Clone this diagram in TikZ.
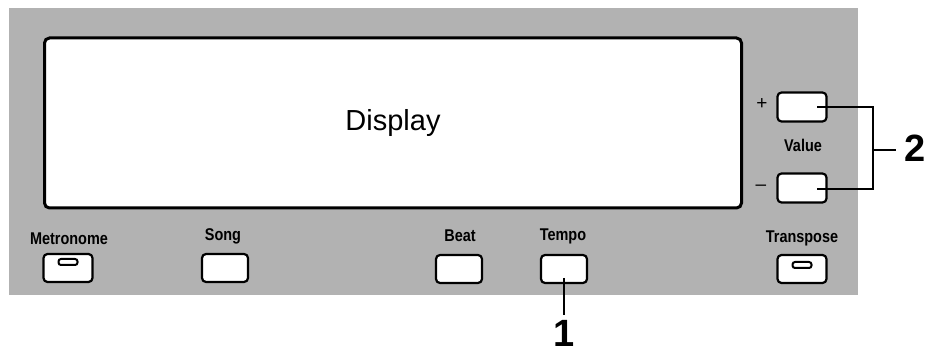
\documentclass[tikz,border=0pt]{standalone}
\usepackage{fontspec}
\setmainfont{Liberation Sans}
\newfontfamily\panelfont[FakeStretch=0.85]{Liberation Sans}
\definecolor{panel-gray}{HTML}{B2B2B2}

\begin{document}
\begin{tikzpicture}[x=1pt, y=-1pt,
    key/.style={draw, line width=2.2pt, fill=white, rounded corners=4pt,
      minimum width=46pt, minimum height=28pt, inner sep=0pt},
    widekey/.style={key, minimum width=49pt},
    keylabel/.style={font=\panelfont\bfseries\fontsize{17}{17}\selectfont,
      inner sep=0pt},
    led/.style={draw, line width=2pt, fill=white, rounded corners=2.5pt,
      minimum width=19pt, minimum height=6pt, inner sep=0pt},
    sign/.style={font=\fontsize{19}{19}\selectfont, inner sep=0pt},
    callout/.style={font=\bfseries\fontsize{38}{38}\selectfont, inner sep=0pt},
    lead/.style={line width=2pt}]
  \useasboundingbox (0,0) rectangle (930,358);
  % front panel
  \fill[panel-gray] (9,8) rectangle (858,295);
  \node[draw, line width=3pt, fill=white, rounded corners=5pt,
        minimum width=697pt, minimum height=170pt]
        (Display) at (393,123) {\fontsize{29}{29}\selectfont Display};

  % buttons along the bottom
  \node[widekey] (MetKey) at (68,268) {};
  \node[key] (SongKey) at (225,268) {};
  \node[key] (BeatKey) at (459,269) {};
  \node[key] (TempoKey) at (564,269) {};
  \node[widekey] (TransKey) at (802,269) {};
  \node[led, yshift=6pt] (MetLed) at (MetKey.center) {};
  \node[led, yshift=4pt] (TransLed) at (TransKey.center) {};

  \node[keylabel] (MetLabel) at (69,239) {Metronome};
  \node[keylabel] (SongLabel) at (223,236) {Song};
  \node[keylabel] (BeatLabel) at (460,236) {Beat};
  \node[keylabel] (TempoLabel) at (563,236) {Tempo};
  \node[keylabel] (TransLabel) at (802,238) {Transpose};

  % value keys
  \node[widekey, minimum height=29pt] (PlusKey) at (802,107) {};
  \node[widekey, minimum height=29pt] (MinusKey) at (802,188) {};
  \node[keylabel] (ValueLabel) at (803,145) {Value};
  \node[sign] (PlusSign) at (762,104) {+};
  \node[sign] (MinusSign) at (761,188) {\textendash};

  % callouts
  \node[callout] (One) at (564,333) {1};
  \coordinate (tempoTap) at ([yshift=-9pt]TempoKey.center);
  \draw[lead, shorten >=5pt] (tempoTap) -- (One.north);

  \node[callout] (Two) at (915,148) {2};
  \coordinate (plusTap) at ([xshift=15pt]PlusKey.center);
  \coordinate (minusTap) at ([xshift=15pt,yshift=-1pt]MinusKey.center);
  \coordinate (bracketMid) at (873,150);
  \draw[lead] (plusTap) -| (bracketMid) |- (minusTap);
  \draw[lead, shorten >=8pt] (bracketMid) -- (Two.west |- bracketMid);
\end{tikzpicture}
\end{document}
